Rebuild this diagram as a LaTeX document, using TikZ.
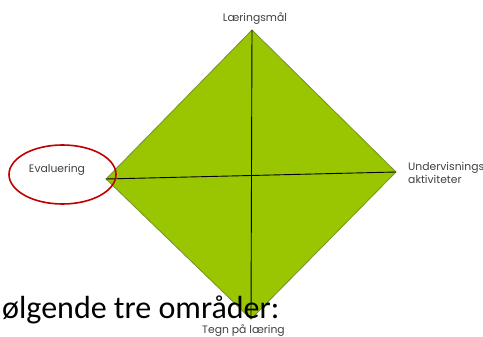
\documentclass[tikz,border=0pt]{standalone}
\usepackage{fontspec}
\setmainfont{Carlito}
\newfontfamily\labfont{Poppins}
\usetikzlibrary{shapes.geometric}
\definecolor{dgreen}{RGB}{153,198,0}
\definecolor{dedge}{RGB}{118,146,40}
\definecolor{dred}{RGB}{192,0,0}
\definecolor{labgray}{RGB}{64,64,64}
\begin{document}
\begin{tikzpicture}[x=1pt,y=-1pt,
  lab/.style={font=\labfont\fontsize{10.8}{13}\selectfont,text=labgray,inner sep=0pt},
  axis/.style={draw=black,line width=0.9pt}]
\useasboundingbox (0,0) rectangle (483,337);
\clip (0,0) rectangle (483,337);
\coordinate (T) at (252,30);
\coordinate (R) at (396,172);
\coordinate (B) at (251,319);
\coordinate (L) at (106,179);
\fill[dgreen,draw=dedge,line width=0.8pt] (T) -- (R) -- (B) -- (L) -- cycle;
\node[anchor=base west,inner sep=0pt,font=\fontsize{32}{38}\selectfont] (big) at (2,318) {ølgende tre områder:};
\draw[axis] (T) -- (B);
\draw[axis] (L) -- (R);
\node[draw=dred,line width=1.6pt,ellipse,minimum width=107pt,minimum height=59pt,inner sep=0pt] (ell) at (62.5,174.5) {};
\node[lab] (ev) at (57,170) {Evaluering};
\node[lab] (lm) at (255,19) {Læringsmål};
\node[lab,anchor=west,align=left] (ua) at (408,173) {Undervisnings\\aktiviteter};
\node[lab] (tl) at (243.5,331) {Tegn på læring};
\end{tikzpicture}
\end{document}
